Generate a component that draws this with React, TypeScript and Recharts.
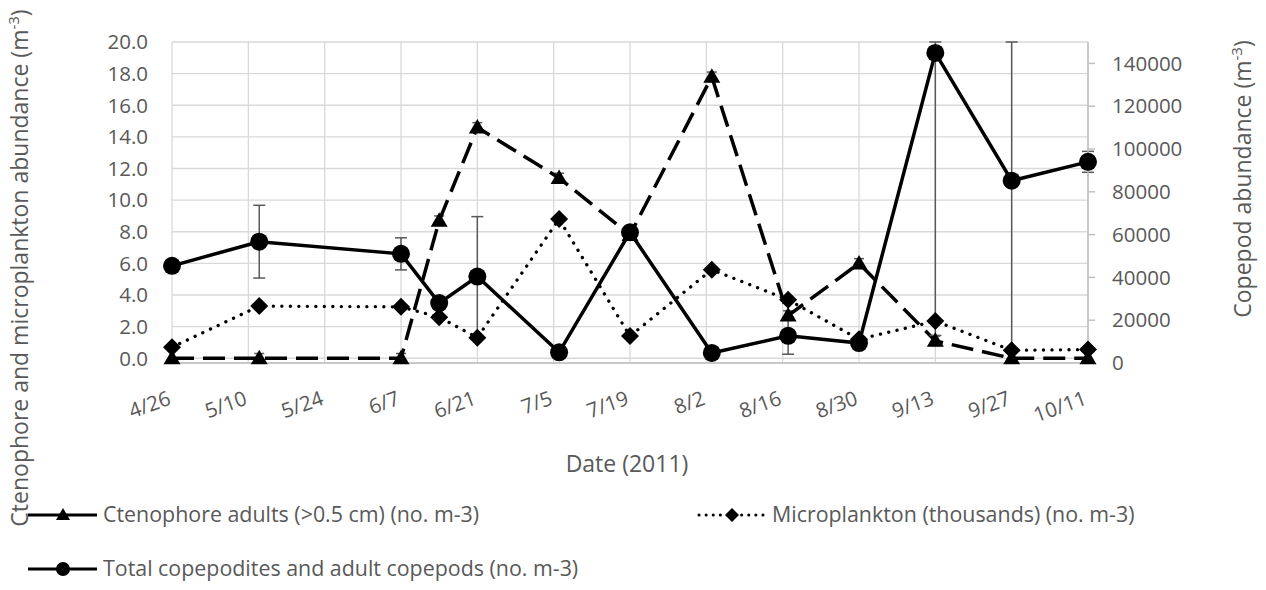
import { LineChart, Line, XAxis, YAxis, CartesianGrid, ErrorBar, Legend, Label } from 'recharts';

// sampling dates (2011) and x-axis tick dates
const sampleDates = ['4/26', '5/12', '6/7', '6/14', '6/21', '7/6', '7/19', '8/3', '8/17', '8/30', '9/13', '9/27', '10/11'];
const tickDates = ['4/26', '5/10', '5/24', '6/7', '6/21', '7/5', '7/19', '8/2', '8/16', '8/30', '9/13', '9/27', '10/11'];

// left axis series (no. m-3)
const ctenophore = [0, 0, 0, 8.7, 14.6, 11.4, 7.8, 17.8, 2.7, 6.0, 1.1, 0, 0];
const ctenophoreErr = [0, 0.3, 0.3, 0.3, 0.3, 0.3, 0.3, 0.3, 0.3, 0.3, 0.3, 0, 0];
const microplankton = [0.7, 3.3, 3.25, 2.6, 1.3, 8.8, 1.4, 5.6, 3.7, 1.2, 2.35, 0.5, 0.55];

// right axis series (no. m-3); error bars as [below, above], cut at the top of the plot
const copepods = [45400, 56700, 51000, 28000, 40400, 5000, 61100, 4700, 12700, 9300, 144900, 85200, 94000];
const copepodsErr = [
  [0, 0], [17000, 17000], [7500, 7500], [0, 0], [28000, 28000], [0, 0], [0, 0],
  [1500, 1500], [8600, 8600], [0, 0], [132000, 5100], [85200, 64800], [4900, 4900],
];

const leftTicks = [0, 2, 4, 6, 8, 10, 12, 14, 16, 18, 20];
const rightTicks = [0, 20000, 40000, 60000, 80000, 100000, 120000, 140000];

const TEXT = '#595959';
const FONT = "'Open Sans', sans-serif";
const TICK_SIZE = 20.5;
const TITLE_SIZE = 23;
const LEGEND_SIZE = 21.4;

const dayOf = (md: string) => {
  const [m, d] = md.split('/').map(Number);
  return Math.round((Date.UTC(2011, m - 1, d) - Date.UTC(2011, 3, 26)) / 86400000);
};

const rows = sampleDates.map((d, i) => ({
  day: dayOf(d),
  cten: ctenophore[i],
  ctenErr: ctenophoreErr[i],
  micro: microplankton[i],
  cope: copepods[i],
  copeErr: copepodsErr[i],
}));

const tickDays = tickDates.map(dayOf);
const tickLabel: Record<number, string> = {};
tickDates.forEach((d) => (tickLabel[dayOf(d)] = d));

const Triangle = ({ cx, cy }: any) =>
  cx == null ? null : <path d={`M${cx},${cy - 8.5} L${cx + 8.5},${cy + 6} L${cx - 8.5},${cy + 6} Z`} fill="#000" />;
const Diamond = ({ cx, cy }: any) =>
  cx == null ? null : <path d={`M${cx},${cy - 9} L${cx + 9},${cy} L${cx},${cy + 9} L${cx - 9},${cy} Z`} fill="#000" />;
const Dot = ({ cx, cy }: any) => (cx == null ? null : <circle cx={cx} cy={cy} r={9} fill="#000" />);

const DateTick = ({ x, y, payload }: any) => (
  <g transform={`translate(${x},${y + 41})`}>
    <text x={0} y={0} textAnchor="end" fill={TEXT} fontSize={TICK_SIZE} fontFamily={FONT} transform="rotate(-20)">
      {tickLabel[payload.value]}
    </text>
  </g>
);

const LeftTitle = () => (
  <text transform="translate(28,268) rotate(-90)" textAnchor="middle" fill={TEXT} fontSize={TITLE_SIZE} fontFamily={FONT}>
    Ctenophore and microplankton abundance (m
    <tspan dy={-9} fontSize={15}>-3</tspan>
    <tspan dy={9}>)</tspan>
  </text>
);

const RightTitle = () => (
  <text transform="translate(1251,179) rotate(-90)" textAnchor="middle" fill={TEXT} fontSize={TITLE_SIZE} fontFamily={FONT}>
    Copepod abundance (m
    <tspan dy={-9} fontSize={15}>-3</tspan>
    <tspan dy={9}>)</tspan>
  </text>
);

const DateTitle = () => (
  <text x={627} y={472} textAnchor="middle" fill={TEXT} fontSize={TITLE_SIZE} fontFamily={FONT}>
    Date (2011)
  </text>
);

const legendPlaces: Record<string, { left: number; top: number }> = {
  cten: { left: 28, top: 35 },
  micro: { left: 697, top: 35 },
  cope: { left: 28, top: 89 },
};

const LegendIcon = ({ k }: { k: string }) => {
  if (k === 'micro') {
    return (
      <svg width={70} height={20} style={{ position: 'absolute', left: 0, top: -10 }}>
        <line x1={2} y1={10} x2={68} y2={10} stroke="#000" strokeWidth={3} strokeDasharray="0.1 7" strokeLinecap="round" />
        <path d="M35,3 L42,10 L35,17 L28,10 Z" fill="#000" />
      </svg>
    );
  }
  return (
    <svg width={70} height={20} style={{ position: 'absolute', left: 0, top: -10 }}>
      <line x1={0} y1={10} x2={69} y2={10} stroke="#000" strokeWidth={3} />
      {k === 'cten' ? <path d="M35,3 L42,15 L28,15 Z" fill="#000" /> : <circle cx={35} cy={10} r={7} fill="#000" />}
    </svg>
  );
};

const renderLegend = (props: any) => (
  <div style={{ position: 'relative', width: 1266, height: 110, fontFamily: FONT }}>
    {(props.payload || []).map((p: any) => {
      const pos = legendPlaces[p.dataKey];
      if (!pos) return null;
      return (
        <div key={p.dataKey} style={{ position: 'absolute', left: pos.left, top: pos.top }}>
          <LegendIcon k={p.dataKey} />
          <span
            style={{ position: 'absolute', left: 75, top: -15, whiteSpace: 'nowrap', fontSize: LEGEND_SIZE, color: TEXT, lineHeight: '28px' }}
          >
            {p.value}
          </span>
        </div>
      );
    })}
  </div>
);

export default function App() {
  return (
    <div style={{ position: 'absolute', left: 0, top: 0, background: '#fff' }}>
      <LineChart width={1266} height={590} data={rows} margin={{ top: 42, right: 0, bottom: 0, left: 0 }} style={{ fontFamily: FONT }}>
        <CartesianGrid stroke="#d9d9d9" strokeWidth={1.3} yAxisId="left" />
        <XAxis
          dataKey="day"
          type="number"
          domain={[0, 168]}
          ticks={tickDays}
          interval={0}
          height={117}
          tick={<DateTick />}
          tickLine={false}
          tickSize={0}
          tickMargin={0}
          stroke="#bfbfbf"
          strokeWidth={1.5}
        >
          <Label content={() => <DateTitle />} />
        </XAxis>
        <YAxis
          yAxisId="left"
          width={172}
          domain={[0, 20]}
          ticks={leftTicks}
          interval={0}
          axisLine={false}
          tickLine={false}
          tickMargin={24}
          tickSize={0}
          tickFormatter={(v: number) => v.toFixed(1)}
          tick={{ fill: TEXT, fontSize: TICK_SIZE, fontFamily: FONT }}
          label={{ content: () => <LeftTitle /> }}
        />
        <YAxis
          yAxisId="right"
          orientation="right"
          width={178}
          domain={[0, 150000]}
          allowDataOverflow
          ticks={rightTicks}
          interval={0}
          stroke="#bfbfbf"
          strokeWidth={1.5}
          tickSize={7}
          tickMargin={17}
          tick={{ fill: TEXT, fontSize: TICK_SIZE, fontFamily: FONT }}
          label={{ content: () => <RightTitle /> }}
        />
        <Legend verticalAlign="bottom" align="left" content={renderLegend} wrapperStyle={{ left: 0, width: 1266, height: 110 }} />
        <Line
          yAxisId="left"
          dataKey="cten"
          name="Ctenophore adults (>0.5 cm) (no. m-3)"
          type="linear"
          stroke="#000"
          strokeWidth={3.5}
          strokeDasharray="22 9"
          dot={<Triangle />}
          activeDot={false}
          isAnimationActive={false}
        >
          <ErrorBar dataKey="ctenErr" direction="y" width={5} stroke="#595959" strokeWidth={1.5} />
        </Line>
        <Line
          yAxisId="left"
          dataKey="micro"
          name="Microplankton (thousands) (no. m-3)"
          type="linear"
          stroke="#000"
          strokeWidth={3.3}
          strokeDasharray="0.1 8.4"
          strokeLinecap="round"
          dot={<Diamond />}
          activeDot={false}
          isAnimationActive={false}
        />
        <Line
          yAxisId="right"
          dataKey="cope"
          name="Total copepodites and adult copepods (no. m-3)"
          type="linear"
          stroke="#000"
          strokeWidth={3.5}
          dot={<Dot />}
          activeDot={false}
          isAnimationActive={false}
        >
          <ErrorBar dataKey="copeErr" direction="y" width={6} stroke="#595959" strokeWidth={1.5} />
        </Line>
      </LineChart>
    </div>
  );
}
